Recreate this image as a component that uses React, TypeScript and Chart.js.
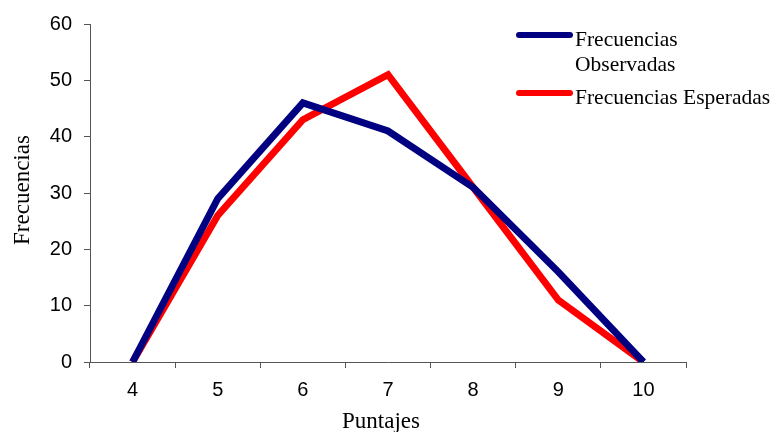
import React, { useEffect, useRef } from "react";
import { Chart, registerables } from "chart.js";

Chart.register(...registerables);

const categories = ["4", "5", "6", "7", "8", "9", "10"];
const observadas = [0, 29, 46, 41, 31, 16, 0];
const esperadas = [0, 26, 43, 51, 31, 11, 0];
const yTicks = [0, 10, 20, 30, 40, 50, 60];
const seriesNames = ["Frecuencias Observadas", "Frecuencias Esperadas"];
const legendLines = [["Frecuencias", "Observadas"], ["Frecuencias Esperadas"]];
const xTitle = "Puntajes";
const yTitle = "Frecuencias";
const colors = ["#000080", "#FF0000"];

const SERIF = '"Liberation Serif", "Times New Roman", serif';

const legendPlugin = {
  id: "customLegendTitles",
  afterDraw(chart: any) {
    const ctx = chart.ctx;
    const area = chart.chartArea;
    ctx.save();
    ctx.fillStyle = "#000";
    ctx.textBaseline = "alphabetic";
    ctx.textAlign = "left";
    ctx.font = `21.5px ${SERIF}`;
    const rows = [
      { lineY: 35, textY: [46, 71] },
      { lineY: 93, textY: [104] },
    ];
    rows.forEach((r, i) => {
      ctx.strokeStyle = colors[i];
      ctx.lineWidth = 6;
      ctx.lineCap = "round";
      ctx.beginPath();
      ctx.moveTo(519, r.lineY);
      ctx.lineTo(570, r.lineY);
      ctx.stroke();
      legendLines[i].forEach((t, j) => ctx.fillText(t, 575, r.textY[j]));
    });
    // axis titles
    ctx.textAlign = "center";
    ctx.font = `23px ${SERIF}`;
    ctx.fillText(xTitle, (area.left + area.right) / 2 - 7, 428);
    ctx.translate(29, (area.top + area.bottom) / 2 - 3);
    ctx.rotate(-Math.PI / 2);
    ctx.fillText(yTitle, 0, 0);
    ctx.restore();
  },
};

export default function App() {
  const ref = useRef<HTMLCanvasElement>(null);
  useEffect(() => {
    if (!ref.current) return;
    const tickFont = { family: '"Liberation Sans", Arial, sans-serif', size: 20 };
    const chart = new Chart(ref.current, {
      type: "line",
      data: {
        labels: categories,
        datasets: [
          {
            label: seriesNames[0],
            data: observadas,
            borderColor: colors[0],
            backgroundColor: colors[0],
            borderWidth: 7,
            pointRadius: 0,
            tension: 0,
            borderJoinStyle: "miter",
          },
          {
            label: seriesNames[1],
            data: esperadas,
            borderColor: colors[1],
            backgroundColor: colors[1],
            borderWidth: 7,
            pointRadius: 0,
            tension: 0,
            borderJoinStyle: "miter",
          },
        ],
      },
      options: {
        animation: false,
        responsive: false,
        maintainAspectRatio: false,
        layout: { padding: { top: 24, right: 90, left: 0, bottom: 0 } },
        plugins: { legend: { display: false }, tooltip: { enabled: false } },
        scales: {
          x: {
            type: "category",
            offset: true,
            grid: { offset: true, drawOnChartArea: false, drawTicks: true, tickLength: 6, color: "#555" },
            border: { color: "#555", width: 1 },
            ticks: { color: "#000", font: tickFont, padding: 10, maxRotation: 0 },
            afterFit: (s: any) => { s.height = 70; },
          },
          y: {
            min: 0,
            max: 60,
            afterBuildTicks: (s: any) => { s.ticks = yTicks.map((v) => ({ value: v })); },
            grid: { drawOnChartArea: false, drawTicks: true, tickLength: 6, color: "#555" },
            border: { color: "#555", width: 1 },
            ticks: { color: "#000", font: tickFont, padding: 12 },
            afterFit: (s: any) => { s.width = 90; },
          },
        },
      },
      plugins: [legendPlugin],
    } as any);
    return () => chart.destroy();
  }, []);
  return (
    <div style={{ position: "fixed", left: 0, top: 0, width: 776, height: 432, background: "#fff" }}>
      <canvas ref={ref} width={776} height={432} style={{ width: 776, height: 432 }} />
    </div>
  );
}
